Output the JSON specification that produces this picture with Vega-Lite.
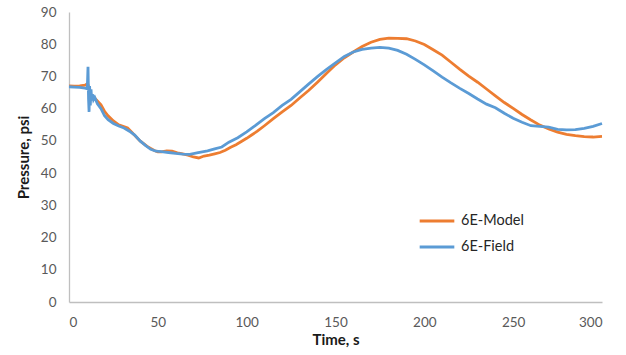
{
  "$schema": "https://vega.github.io/schema/vega-lite/v6.json",
  "width": 533,
  "height": 290,
  "autosize": {"type": "none"},
  "padding": {"left": 69, "top": 12, "right": 24, "bottom": 53},
  "background": "white",
  "config": {
    "view": {"stroke": null},
    "font": "Lato",
    "axis": {"grid": false, "ticks": false, "domainColor": "#bfbfbf", "domainWidth": 1.3, "labelColor": "#595959", "labelFontSize": 13.5, "labelFont": "Lato", "titleFont": "Lato", "titleFontSize": 15, "titleFontWeight": "bold", "titleColor": "#1a1a1a"}
  },
  "data": {"values": [
    {"s":"6E-Model","t":0,"p":67.1},{"s":"6E-Model","t":3,"p":67.0},{"s":"6E-Model","t":6,"p":67.1},{"s":"6E-Model","t":9,"p":67.3},{"s":"6E-Model","t":10.5,"p":67.8},{"s":"6E-Model","t":11.5,"p":66.0},{"s":"6E-Model","t":12.5,"p":64.2},{"s":"6E-Model","t":14,"p":63.5},{"s":"6E-Model","t":16,"p":62.4},{"s":"6E-Model","t":18,"p":61.2},{"s":"6E-Model","t":20,"p":59.2},{"s":"6E-Model","t":22,"p":57.8},{"s":"6E-Model","t":25,"p":56.2},{"s":"6E-Model","t":28,"p":55.0},{"s":"6E-Model","t":30,"p":54.6},{"s":"6E-Model","t":33,"p":54.0},{"s":"6E-Model","t":36,"p":52.3},{"s":"6E-Model","t":40,"p":50.0},{"s":"6E-Model","t":44,"p":48.3},{"s":"6E-Model","t":48,"p":47.0},{"s":"6E-Model","t":50,"p":46.6},{"s":"6E-Model","t":52,"p":46.6},{"s":"6E-Model","t":55,"p":46.9},{"s":"6E-Model","t":58,"p":46.8},{"s":"6E-Model","t":61,"p":46.3},{"s":"6E-Model","t":64,"p":46.0},{"s":"6E-Model","t":67,"p":45.6},{"s":"6E-Model","t":70,"p":45.0},{"s":"6E-Model","t":73,"p":44.7},{"s":"6E-Model","t":76,"p":45.3},{"s":"6E-Model","t":79,"p":45.6},{"s":"6E-Model","t":82,"p":46.0},{"s":"6E-Model","t":85,"p":46.4},{"s":"6E-Model","t":88,"p":47.1},{"s":"6E-Model","t":91,"p":48.0},{"s":"6E-Model","t":94,"p":48.8},{"s":"6E-Model","t":97,"p":49.8},{"s":"6E-Model","t":100,"p":50.8},{"s":"6E-Model","t":103,"p":51.9},{"s":"6E-Model","t":106,"p":53.0},{"s":"6E-Model","t":110,"p":54.7},{"s":"6E-Model","t":115,"p":56.9},{"s":"6E-Model","t":120,"p":59.0},{"s":"6E-Model","t":125,"p":61.0},{"s":"6E-Model","t":130,"p":63.4},{"s":"6E-Model","t":135,"p":65.7},{"s":"6E-Model","t":140,"p":68.3},{"s":"6E-Model","t":145,"p":71.0},{"s":"6E-Model","t":150,"p":73.6},{"s":"6E-Model","t":155,"p":75.8},{"s":"6E-Model","t":160,"p":77.6},{"s":"6E-Model","t":165,"p":79.3},{"s":"6E-Model","t":170,"p":80.6},{"s":"6E-Model","t":175,"p":81.5},{"s":"6E-Model","t":180,"p":81.9},{"s":"6E-Model","t":185,"p":81.8},{"s":"6E-Model","t":190,"p":81.7},{"s":"6E-Model","t":195,"p":81.0},{"s":"6E-Model","t":200,"p":79.9},{"s":"6E-Model","t":205,"p":78.3},{"s":"6E-Model","t":210,"p":76.6},{"s":"6E-Model","t":215,"p":74.4},{"s":"6E-Model","t":220,"p":72.2},{"s":"6E-Model","t":225,"p":70.1},{"s":"6E-Model","t":230,"p":68.2},{"s":"6E-Model","t":235,"p":66.1},{"s":"6E-Model","t":240,"p":64.0},{"s":"6E-Model","t":245,"p":61.9},{"s":"6E-Model","t":250,"p":60.1},{"s":"6E-Model","t":255,"p":58.2},{"s":"6E-Model","t":260,"p":56.5},{"s":"6E-Model","t":265,"p":54.9},{"s":"6E-Model","t":270,"p":53.7},{"s":"6E-Model","t":275,"p":52.7},{"s":"6E-Model","t":280,"p":52.0},{"s":"6E-Model","t":285,"p":51.6},{"s":"6E-Model","t":290,"p":51.3},{"s":"6E-Model","t":295,"p":51.2},{"s":"6E-Model","t":300,"p":51.4},
    {"s":"6E-Field","t":0,"p":66.8},{"s":"6E-Field","t":3,"p":66.7},{"s":"6E-Field","t":6,"p":66.6},{"s":"6E-Field","t":9,"p":66.4},{"s":"6E-Field","t":10.3,"p":66.2},{"s":"6E-Field","t":10.7,"p":73.0},{"s":"6E-Field","t":11.0,"p":63.0},{"s":"6E-Field","t":11.3,"p":59.0},{"s":"6E-Field","t":11.6,"p":67.0},{"s":"6E-Field","t":12.0,"p":61.0},{"s":"6E-Field","t":12.4,"p":66.0},{"s":"6E-Field","t":12.8,"p":62.5},{"s":"6E-Field","t":13.2,"p":64.5},{"s":"6E-Field","t":13.8,"p":62.8},{"s":"6E-Field","t":14.5,"p":63.5},{"s":"6E-Field","t":16,"p":61.5},{"s":"6E-Field","t":18,"p":60.0},{"s":"6E-Field","t":20,"p":57.8},{"s":"6E-Field","t":22,"p":56.6},{"s":"6E-Field","t":25,"p":55.4},{"s":"6E-Field","t":28,"p":54.6},{"s":"6E-Field","t":31,"p":54.0},{"s":"6E-Field","t":34,"p":53.0},{"s":"6E-Field","t":37,"p":51.8},{"s":"6E-Field","t":40,"p":50.0},{"s":"6E-Field","t":43,"p":48.6},{"s":"6E-Field","t":46,"p":47.4},{"s":"6E-Field","t":49,"p":46.8},{"s":"6E-Field","t":52,"p":46.7},{"s":"6E-Field","t":56,"p":46.4},{"s":"6E-Field","t":60,"p":46.1},{"s":"6E-Field","t":64,"p":45.9},{"s":"6E-Field","t":68,"p":45.8},{"s":"6E-Field","t":72,"p":46.3},{"s":"6E-Field","t":75,"p":46.6},{"s":"6E-Field","t":78,"p":46.9},{"s":"6E-Field","t":82,"p":47.5},{"s":"6E-Field","t":86,"p":48.1},{"s":"6E-Field","t":90,"p":49.6},{"s":"6E-Field","t":95,"p":51.0},{"s":"6E-Field","t":100,"p":52.8},{"s":"6E-Field","t":105,"p":54.8},{"s":"6E-Field","t":110,"p":56.9},{"s":"6E-Field","t":115,"p":58.8},{"s":"6E-Field","t":120,"p":61.0},{"s":"6E-Field","t":125,"p":62.9},{"s":"6E-Field","t":130,"p":65.3},{"s":"6E-Field","t":135,"p":67.7},{"s":"6E-Field","t":140,"p":70.0},{"s":"6E-Field","t":145,"p":72.2},{"s":"6E-Field","t":150,"p":74.2},{"s":"6E-Field","t":155,"p":76.2},{"s":"6E-Field","t":160,"p":77.6},{"s":"6E-Field","t":165,"p":78.4},{"s":"6E-Field","t":170,"p":78.8},{"s":"6E-Field","t":175,"p":79.0},{"s":"6E-Field","t":180,"p":78.8},{"s":"6E-Field","t":185,"p":78.1},{"s":"6E-Field","t":190,"p":76.9},{"s":"6E-Field","t":195,"p":75.3},{"s":"6E-Field","t":200,"p":73.6},{"s":"6E-Field","t":205,"p":71.7},{"s":"6E-Field","t":210,"p":69.8},{"s":"6E-Field","t":215,"p":68.0},{"s":"6E-Field","t":220,"p":66.3},{"s":"6E-Field","t":225,"p":64.7},{"s":"6E-Field","t":230,"p":63.0},{"s":"6E-Field","t":235,"p":61.4},{"s":"6E-Field","t":240,"p":60.3},{"s":"6E-Field","t":245,"p":58.6},{"s":"6E-Field","t":250,"p":57.0},{"s":"6E-Field","t":255,"p":55.8},{"s":"6E-Field","t":260,"p":54.7},{"s":"6E-Field","t":265,"p":54.5},{"s":"6E-Field","t":270,"p":54.3},{"s":"6E-Field","t":275,"p":53.6},{"s":"6E-Field","t":280,"p":53.4},{"s":"6E-Field","t":285,"p":53.5},{"s":"6E-Field","t":290,"p":53.9},{"s":"6E-Field","t":295,"p":54.5},{"s":"6E-Field","t":300,"p":55.4}
  ]},
  "mark": {"type": "line", "strokeWidth": 2.8},
  "encoding": {
    "x": {"field": "t", "type": "quantitative", "scale": {"domain": [0, 300], "nice": false}, "axis": {"values": [0,50,100,150,200,250,300], "title": "Time, s", "labelPadding": 13, "titlePadding": 4}},
    "y": {"field": "p", "type": "quantitative", "scale": {"domain": [0, 90], "nice": false}, "axis": {"values": [0,10,20,30,40,50,60,70,80,90], "title": "Pressure, psi", "labelPadding": 13, "titlePadding": 9}},
    "color": {"field": "s", "type": "nominal", "scale": {"domain": ["6E-Model", "6E-Field"], "range": ["#ED7D31", "#5B9BD5"]},
      "legend": {"title": null, "orient": "none", "legendX": 349, "legendY": 190, "symbolType": "stroke", "symbolSize": 1200, "symbolStrokeWidth": 3, "labelFontSize": 14.5, "labelFont": "Lato", "labelColor": "#262626", "rowPadding": 0, "labelOffset": 5}},
    "order": {"field": "t", "type": "quantitative"}
  }
}
